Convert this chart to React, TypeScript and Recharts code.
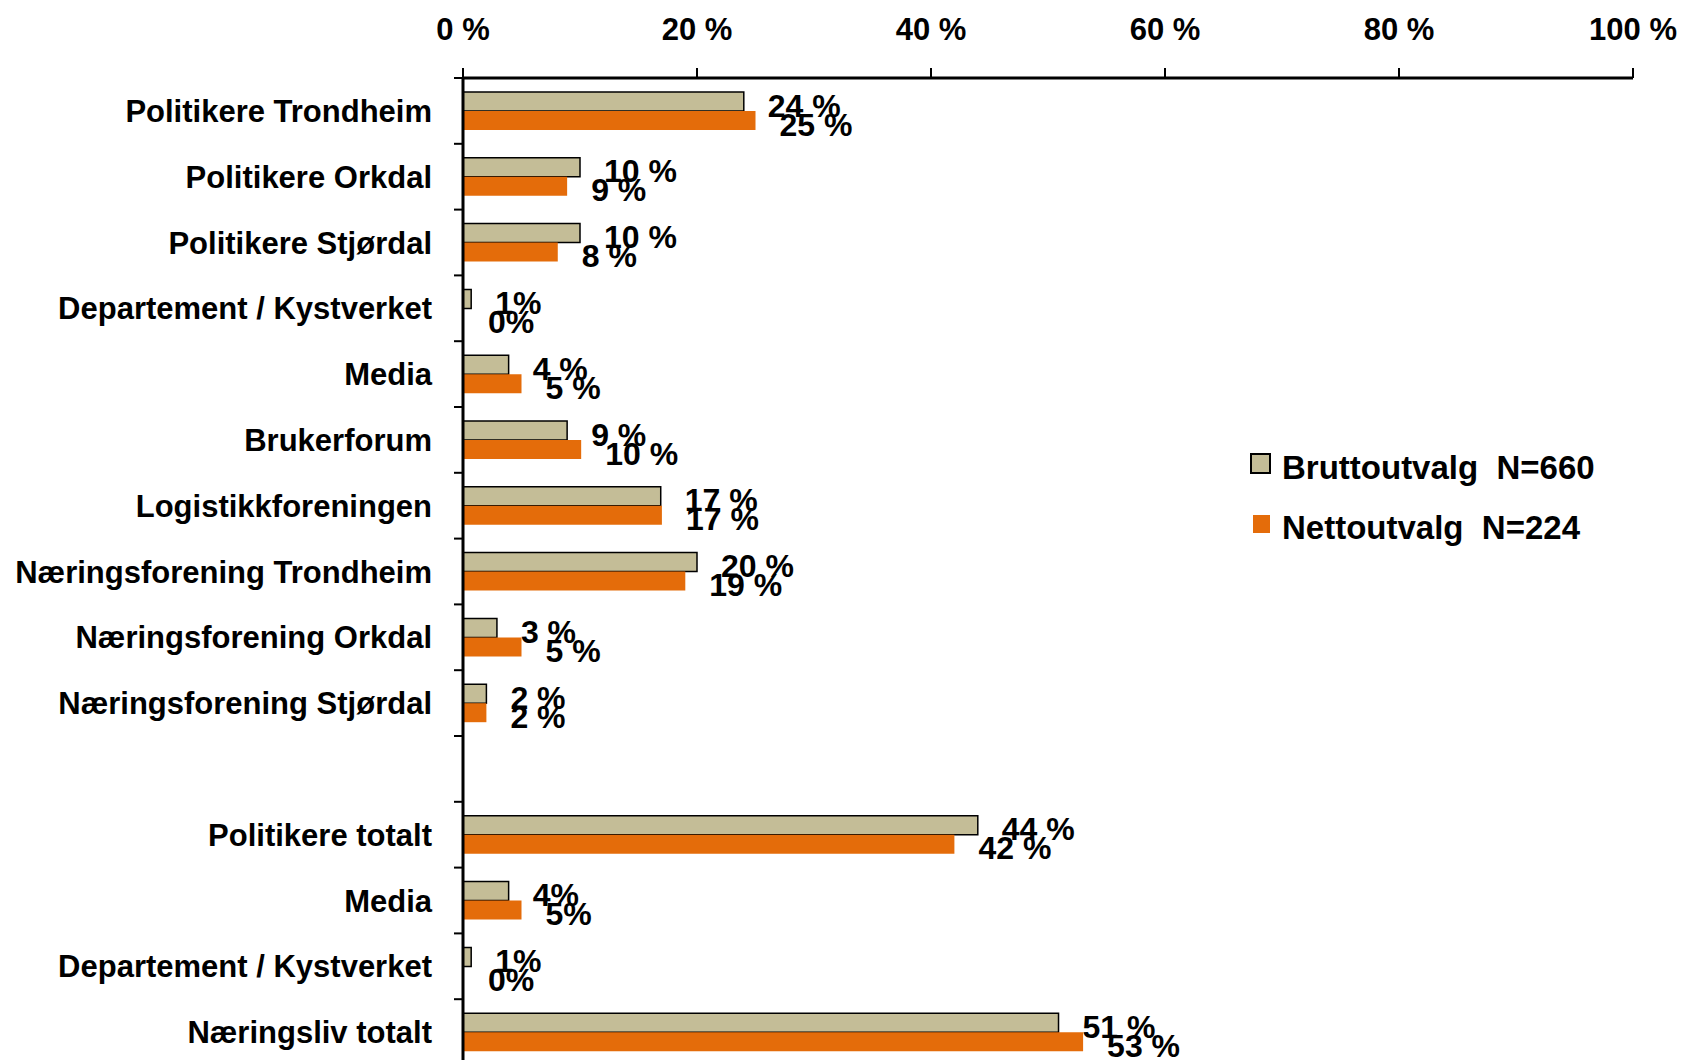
import React from "react";
import { BarChart, Bar, XAxis, YAxis, LabelList } from "recharts";

const categories = [
  "Politikere Trondheim",
  "Politikere Orkdal",
  "Politikere Stjørdal",
  "Departement / Kystverket",
  "Media",
  "Brukerforum",
  "Logistikkforeningen",
  "Næringsforening Trondheim",
  "Næringsforening Orkdal",
  "Næringsforening Stjørdal",
  "",
  "Politikere totalt",
  "Media",
  "Departement / Kystverket",
  "Næringsliv totalt",
];

const brutto = [24, 10, 10, 0.7, 3.9, 8.9, 16.9, 20, 2.9, 2, null, 44, 3.9, 0.7, 50.9];
const netto = [25, 8.9, 8.1, 0, 5, 10.1, 17, 19, 5, 2, null, 42, 5, 0, 53];

const bruttoText = ["24 %", "10 %", "10 %", "1%", "4 %", "9 %", "17 %", "20 %", "3 %", "2 %", "", "44 %", "4%", "1%", "51 %"];
const nettoText = ["25 %", "9 %", "8 %", "0%", "5 %", "10 %", "17 %", "19 %", "5 %", "2 %", "", "42 %", "5%", "0%", "53 %"];

const xTicks = [0, 20, 40, 60, 80, 100];

const seriesNames = ["Bruttoutvalg  N=660", "Nettoutvalg  N=224"];

const TAN = "#C4BD97";
const ORANGE = "#E46C0A";
const FONT = '"Liberation Sans", Arial, sans-serif';

const W = 1688;
const H = 1070;
const MARGIN = { top: 18, right: 55, bottom: 5, left: 0 };
const X_AXIS_H = 60;
const Y_AXIS_W = 463;
const PLOT_TOP = MARGIN.top + X_AXIS_H;
const PLOT_H = H - MARGIN.bottom - PLOT_TOP;
const BAND = PLOT_H / categories.length;

const data = categories.map((name, i) => ({
  name,
  brutto: brutto[i],
  netto: netto[i],
  bruttoLabel: bruttoText[i],
  nettoLabel: nettoText[i],
}));

const XTick = (props: any) => {
  const { x, y, payload } = props;
  return (
    <text
      x={x}
      y={y}
      textAnchor="middle"
      fontFamily={FONT}
      fontWeight="bold"
      fontSize={31}
      fill="#000"
    >
      {`${payload.value} %`}
    </text>
  );
};

const YTick = (props: any) => {
  const { x, y, payload, index } = props;
  const axisX = x + 31;
  const top = y - BAND / 2;
  return (
    <g>
      <line x1={axisX - 9} x2={axisX} y1={top} y2={top} stroke="#000" strokeWidth={2} />
      {index === categories.length - 1 && (
        <line x1={axisX - 9} x2={axisX} y1={y + BAND / 2} y2={y + BAND / 2} stroke="#000" strokeWidth={2} />
      )}
      <text
        x={x}
        y={y}
        dy="0.36em"
        textAnchor="end"
        fontFamily={FONT}
        fontWeight="bold"
        fontSize={31}
        fill="#000"
      >
        {payload.value}
      </text>
    </g>
  );
};

const ValueLabel = (props: any) => {
  const { x, y, width, height, value } = props;
  if (value === undefined || value === null || value === "") return null;
  return (
    <text
      x={Number(x) + Number(width) + 24}
      y={Number(y) + Number(height) / 2 + 15}
      fontFamily={FONT}
      fontWeight="bold"
      fontSize={32}
      fill="#000"
    >
      {value}
    </text>
  );
};

export default function App() {
  return (
    <div
      style={{
        position: "absolute",
        left: 0,
        top: 0,
        width: 1688,
        height: 1060,
        overflow: "hidden",
        background: "#fff",
      }}
    >
      <BarChart
        width={W}
        height={H}
        data={data}
        layout="vertical"
        margin={MARGIN}
        barGap={0}
        barSize={19}
      >
        <Bar
          dataKey="brutto"
          fill={TAN}
          stroke="#000"
          strokeWidth={1.5}
          isAnimationActive={false}
        >
          <LabelList dataKey="bruttoLabel" content={<ValueLabel />} />
        </Bar>
        <Bar
          dataKey="netto"
          fill={ORANGE}
          minPointSize={(v: any) => (v === 0 ? 1 : 0)}
          isAnimationActive={false}
        >
          <LabelList dataKey="nettoLabel" content={<ValueLabel />} />
        </Bar>
        <XAxis
          type="number"
          orientation="top"
          domain={[0, 100]}
          ticks={xTicks}
          height={X_AXIS_H}
          axisLine={{ stroke: "#000", strokeWidth: 3 }}
          tickLine={{ stroke: "#000", strokeWidth: 2 }}
          tickSize={10}
          tickMargin={28}
          tick={<XTick />}
          interval={0}
        />
        <YAxis
          type="category"
          dataKey="name"
          width={Y_AXIS_W}
          interval={0}
          axisLine={{ stroke: "#000", strokeWidth: 3 }}
          tickLine={false}
          tickSize={9}
          tickMargin={22}
          tick={<YTick />}
        />
      </BarChart>
      <div
        style={{
          position: "absolute",
          left: 1250,
          top: 452,
          fontFamily: FONT,
          fontWeight: "bold",
          fontSize: 33,
          lineHeight: "32px",
          color: "#000",
          whiteSpace: "pre",
        }}
      >
        <div style={{ position: "relative", height: 60 }}>
          <div
            style={{
              position: "absolute",
              left: 0,
              top: 1,
              width: 17,
              height: 17,
              background: TAN,
              border: "2px solid #000",
            }}
          />
          <div style={{ position: "absolute", left: 32, top: 0 }}>{seriesNames[0]}</div>
        </div>
        <div style={{ position: "relative", height: 40 }}>
          <div
            style={{
              position: "absolute",
              left: 3,
              top: 3,
              width: 17,
              height: 18,
              background: ORANGE,
            }}
          />
          <div style={{ position: "absolute", left: 32, top: 0 }}>{seriesNames[1]}</div>
        </div>
      </div>
    </div>
  );
}
